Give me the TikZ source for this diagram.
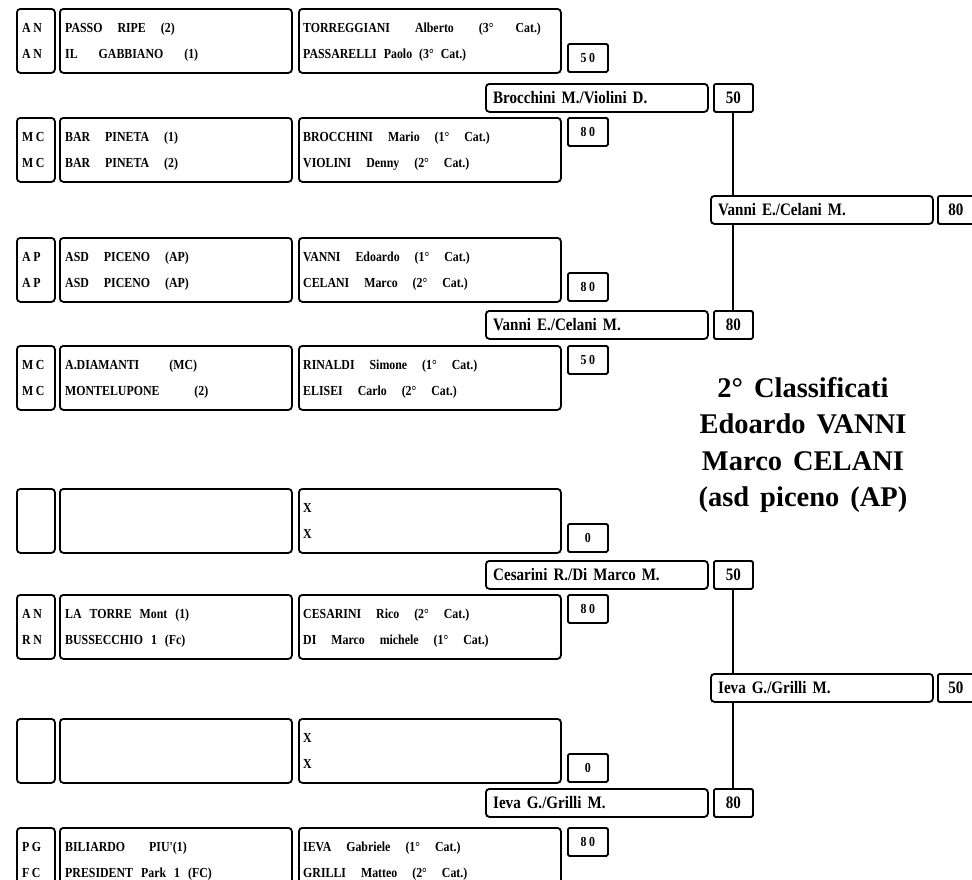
\documentclass[tikz,border=0pt]{standalone}
\usepackage{fontspec}
\setmainfont{Liberation Serif}
\newfontfamily\condfam[FakeStretch=0.86]{Liberation Serif}
\newcommand\smallf{\condfam\bfseries\fontsize{13.8bp}{16bp}\selectfont\spaceskip=15bp plus 1bp\relax}
\newcommand\bigf{\condfam\bfseries\fontsize{17.5bp}{20bp}\selectfont\spaceskip=6bp plus 1bp\relax}
\newcommand\hugef{\bfseries\fontsize{28.5bp}{36.5bp}\selectfont\spaceskip=11bp plus 1bp\relax}
\newcommand\ls{\hspace{2.5bp}}
\newcommand\gp[1]{\hspace{#1bp}}
\tikzset{
  gbox/.style={draw, line width=1.8bp, rounded corners=3.5bp, minimum height=64bp, inner sep=0pt, anchor=north west},
  sbox/.style={draw, line width=1.8bp, rounded corners=1.5bp, minimum width=40bp, minimum height=28bp, inner sep=0pt, anchor=north west, font=\smallf},
  bbox/.style={draw, line width=1.8bp, rounded corners=3.5bp, minimum width=222bp, minimum height=28bp, inner sep=0pt, anchor=north west},
  bscore/.style={draw, line width=1.8bp, rounded corners=1.5bp, minimum width=39bp, minimum height=28bp, inner sep=0pt, anchor=north west, font=\bigf},
  txt/.style={inner sep=0pt, anchor=base west, font=\smallf},
  btxt/.style={inner sep=0pt, anchor=base west, font=\bigf},
  link/.style={line width=2bp},
}
\newcommand\grp[8]{%
  \node[gbox,minimum width=38bp] (#1c) at (16,#2) {};
  \node[gbox,minimum width=232bp] (#1t) at (59,#2) {};
  \node[gbox,minimum width=262bp] (#1p) at (298,#2) {};
  \node[txt] (#1c1) at ([xshift=6bp,yshift=-24.5bp]#1c.north west) {#3};
  \node[txt] (#1c2) at ([xshift=6bp,yshift=-50bp]#1c.north west) {#4};
  \node[txt] (#1t1) at ([xshift=6bp,yshift=-24.5bp]#1t.north west) {#5};
  \node[txt] (#1t2) at ([xshift=6bp,yshift=-50bp]#1t.north west) {#6};
  \node[txt] (#1p1) at ([xshift=5bp,yshift=-24.5bp]#1p.north west) {#7};
  \node[txt] (#1p2) at ([xshift=5bp,yshift=-50bp]#1p.north west) {#8};
}
\newcommand\pair[4]{% name, x, top, text
  \node[bbox] (#1) at (#2,#3) {};
  \node[btxt] (#1l) at ([xshift=8bp,yshift=-20bp]#1.north west) {#4};
}
\begin{document}
\begin{tikzpicture}[x=1bp,y=-1bp]
\useasboundingbox (0,0) rectangle (972,880);
\clip (0,0) rectangle (972,880);

% first-round groups
\grp{ga}{8}{A\ls N}{A\ls N}{PASSO RIPE (2)}{IL\gp{21}GABBIANO\gp{21}(1)}{TORREGGIANI\gp{25}Alberto\gp{25}(3°\gp{22}Cat.)}{PASSARELLI\gp{7}Paolo\gp{7}(3°\gp{7}Cat.)}
\grp{gb}{117}{M\ls C}{M\ls C}{BAR PINETA (1)}{BAR PINETA (2)}{BROCCHINI Mario (1° Cat.)}{VIOLINI Denny (2° Cat.)}
\grp{gc}{237}{A\ls P}{A\ls P}{ASD PICENO (AP)}{ASD PICENO (AP)}{VANNI Edoardo (1° Cat.)}{CELANI Marco (2° Cat.)}
\grp{gd}{345}{M\ls C}{M\ls C}{A.DIAMANTI\gp{30}(MC)}{MONTELUPONE\gp{35}(2)}{RINALDI Simone (1° Cat.)}{ELISEI Carlo (2° Cat.)}
\grp{ge}{488}{}{}{}{}{X}{X}
\grp{gf}{594}{A\ls N}{R\ls N}{LA\gp{8}TORRE\gp{8}Mont\gp{8}(1)}{BUSSECCHIO\gp{8}1\gp{8}(Fc)}{CESARINI Rico (2° Cat.)}{DI Marco michele (1° Cat.)}
\grp{gg}{718}{}{}{}{}{X}{X}
\grp{gh}{827}{P\ls G}{F\ls C}{BILIARDO\gp{24}PIU'(1)}{PRESIDENT\gp{8}Park\gp{8}1\gp{8}(FC)}{IEVA Gabriele (1° Cat.)}{GRILLI Matteo (2° Cat.)}

% first-round scores
\node[sbox] (gas) at (567,43)  {5\ls 0};
\node[sbox] (gbs) at (567,117) {8\ls 0};
\node[sbox] (gcs) at (567,272) {8\ls 0};
\node[sbox] (gds) at (567,345) {5\ls 0};
\node[sbox] (ges) at (567,523) {0};
\node[sbox] (gfs) at (567,594) {8\ls 0};
\node[sbox] (ggs) at (567,753) {0};
\node[sbox] (ghs) at (567,827) {8\ls 0};

% second round
\pair{pa}{485}{83}{Brocchini M./Violini D.}
\node[bscore] (pas) at (713,83) {50};
\pair{pb}{485}{310}{Vanni E./Celani M.}
\node[bscore] (pbs) at (713,310) {80};
\pair{pc}{485}{560}{Cesarini R./Di Marco M.}
\node[bscore] (pcs) at (713,560) {50};
\pair{pd}{485}{788}{Ieva G./Grilli M.}
\node[bscore] (pds) at (713,788) {80};

% third round
\pair{fa}{710}{195}{Vanni E./Celani M.}
\node[bscore, minimum width=42bp] (fas) at (937,195) {\hspace*{-6bp}80};
\pair{fb}{710}{673}{Ieva G./Grilli M.}
\node[bscore, minimum width=42bp] (fbs) at (937,673) {\hspace*{-6bp}50};

% connectors
\draw[link] (pas.south) -- (pas.south |- fa.north);
\draw[link] (pbs.north |- fa.south) -- (pbs.north);
\draw[link] (pcs.south) -- (pcs.south |- fb.north);
\draw[link] (pds.north |- fb.south) -- (pds.north);

% result
\node[font=\hugef, align=center, inner sep=0pt] (res) at (803,445)
  {2° Classificati\\Edoardo VANNI\\Marco CELANI\\(asd piceno (AP)};
\end{tikzpicture}
\end{document}
